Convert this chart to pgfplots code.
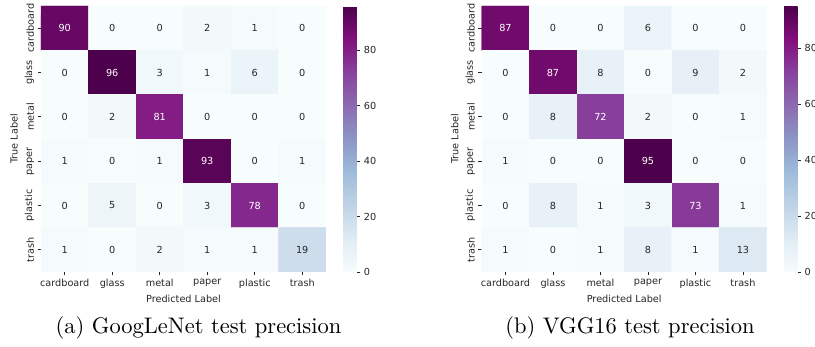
\documentclass[border=0pt]{standalone}
\usepackage{fontspec}
\usepackage{pgfplots}
\pgfplotsset{compat=1.18}
\usepackage{pgfplotstable}
\newfontfamily\djv{DejaVu Sans}
\newcommand\tf{\djv\fontsize{9.7}{11.6}\selectfont}
\definecolor{txt}{RGB}{38,38,38}

\pgfplotstableread{
x y v
0 0 90
1 0 0
2 0 0
3 0 2
4 0 1
5 0 0
0 1 0
1 1 96
2 1 3
3 1 1
4 1 6
5 1 0
0 2 0
1 2 2
2 2 81
3 2 0
4 2 0
5 2 0
0 3 1
1 3 0
2 3 1
3 3 93
4 3 0
5 3 1
0 4 0
1 4 5
2 4 0
3 4 3
4 4 78
5 4 0
0 5 1
1 5 0
2 5 2
3 5 1
4 5 1
5 5 19
}\gtab

\pgfplotstableread{
x y v
0 0 87
1 0 0
2 0 0
3 0 6
4 0 0
5 0 0
0 1 0
1 1 87
2 1 8
3 1 0
4 1 9
5 1 2
0 2 0
1 2 8
2 2 72
3 2 2
4 2 0
5 2 1
0 3 1
1 3 0
2 3 0
3 3 95
4 3 0
5 3 0
0 4 0
1 4 8
2 4 1
3 4 3
4 4 73
5 4 1
0 5 1
1 5 0
2 5 1
3 5 8
4 5 1
5 5 13
}\vtab

\pgfplotsset{
  colormap={bupu}{rgb255=(247,252,253) rgb255=(224,236,244) rgb255=(191,211,230) rgb255=(158,188,218) rgb255=(140,150,198) rgb255=(140,107,177) rgb255=(136,65,157) rgb255=(129,15,124) rgb255=(77,0,75)},
  cm/.style={
    scale only axis, width=285pt, height=266pt,
    xmin=-0.5, xmax=5.5, ymin=-0.5, ymax=5.5, y dir=reverse,
    enlargelimits=false,
    axis line style={draw=none},
    xtick={0,...,5}, ytick={0,...,5},
    xticklabels={cardboard,glass,metal,paper,plastic,trash},
    yticklabels={cardboard,glass,metal,paper,plastic,trash},
    xtick pos=bottom, ytick pos=left,
    tick align=outside, major tick length=3.4pt,
    tick style={txt, line width=0.78pt},
    ticklabel style={font=\tf, text=txt},
    yticklabel style={rotate=90, anchor=south},
    label style={font=\tf, text=txt},
    xlabel={Predicted Label}, ylabel={True Label},
    colorbar,
    colorbar shift/.style={xshift=17.5pt},
    colorbar style={at={(parent axis.north east)}, anchor=north west,
      scale only axis, width=13.5pt, height=266pt,
      axis line style={draw=none},
      ytick={0,20,40,60,80}, tick align=outside, major tick length=3.4pt,
      tick style={txt, line width=0.78pt},
      yticklabel style={font=\tf, text=txt, /pgf/number format/assume math mode=true},
      ytick pos=right},
    point meta min=0,
  },
  lab/.style={only marks, mark=none, nodes near coords, point meta=explicit symbolic,
    nodes near coords align={center},
    every node near coord/.append style={font=\tf, anchor=center}},
}

\begin{document}
\begin{tikzpicture}
\begin{axis}[cm, at={(41pt,75pt)}, anchor=south west, point meta max=96]
\addplot[matrix plot*, mesh/cols=6, mesh/rows=6, point meta=explicit] table[x=x, y=y, meta=v] {\gtab};
\addplot[lab, every node near coord/.append style={text=white}, restrict expr to domain={\thisrow{v}}{40:100}] table[x=x, y=y, meta=v] {\gtab};
\addplot[lab, every node near coord/.append style={text=txt}, restrict expr to domain={\thisrow{v}}{0:39}] table[x=x, y=y, meta=v] {\gtab};
\end{axis}
\begin{axis}[cm, at={(481.7pt,75pt)}, anchor=south west, point meta max=95]
\addplot[matrix plot*, mesh/cols=6, mesh/rows=6, point meta=explicit] table[x=x, y=y, meta=v] {\vtab};
\addplot[lab, every node near coord/.append style={text=white}, restrict expr to domain={\thisrow{v}}{40:100}] table[x=x, y=y, meta=v] {\vtab};
\addplot[lab, every node near coord/.append style={text=txt}, restrict expr to domain={\thisrow{v}}{0:39}] table[x=x, y=y, meta=v] {\vtab};
\end{axis}
\node[anchor=base, scale=2.25, inner sep=0pt, font=\fontsize{10}{12}\selectfont] at (198.5pt,13pt) {(a) GoogLeNet test precision};
\node[anchor=base, scale=2.25, inner sep=0pt, font=\fontsize{10}{12}\selectfont] at (630pt,13pt) {(b) VGG16 test precision};
\pgfresetboundingbox
\path (0,0) rectangle (815pt,347pt);
\end{tikzpicture}
\end{document}
